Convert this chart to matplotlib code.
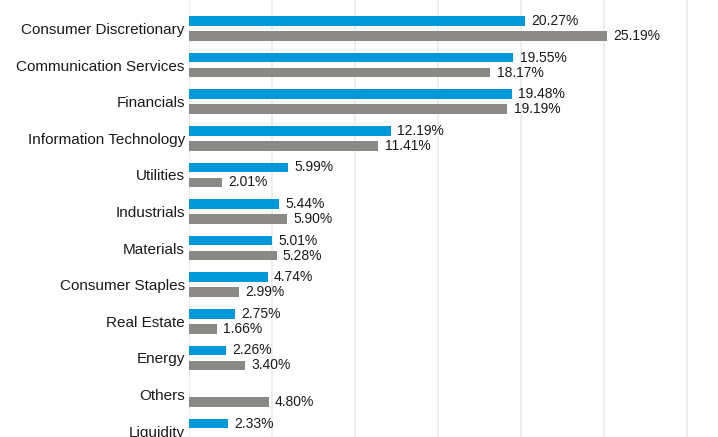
import numpy as np
import matplotlib.pyplot as plt

plt.rcParams['font.family'] = ['Liberation Sans', 'DejaVu Sans']

sectors = ['Consumer Discretionary', 'Communication Services', 'Financials',
           'Information Technology', 'Utilities', 'Industrials', 'Materials',
           'Consumer Staples', 'Real Estate', 'Energy', 'Others', 'Liquidity']
fund = [20.27, 19.55, 19.48, 12.19, 5.99, 5.44, 5.01, 4.74, 2.75, 2.26, None, 2.33]
benchmark = [25.19, 18.17, 19.19, 11.41, 2.01, 5.90, 5.28, 2.99, 1.66, 3.40, 4.80, None]

blue = '#0098D8'
grey = '#8A8985'

fig = plt.figure(figsize=(7.18, 4.37), dpi=100)
ax = fig.add_axes([189 / 718, 0, 1 - 189 / 718, 1])

y = np.arange(len(sectors))
h = 0.26
off = 0.205

for vals, d, col in [(fund, -off, blue), (benchmark, off, grey)]:
    for i, v in enumerate(vals):
        if v is None:
            continue
        ax.barh(y[i] + d, v, height=h, color=col, zorder=2)
        ax.annotate(f'{v:.2f}%', (v, y[i] + d), xytext=(4.5, 0),
                    textcoords='offset points', va='center', ha='left',
                    fontsize=10, color='#1a1a1a')

ax.set_xlim(0, (718 - 189) / 16.59)
ax.set_ylim(11.16, -0.78)
ax.set_xticks(np.arange(0, 35, 5))
ax.set_xticklabels([])
ax.set_yticks(y)
ax.set_yticklabels(sectors, fontsize=11, color='#1a1a1a')
ax.tick_params(axis='both', length=0)
ax.tick_params(axis='y', pad=3)
ax.grid(axis='x', color='#EBEBEB', linewidth=1.2, zorder=0)
ax.set_axisbelow(True)
for s in ax.spines.values():
    s.set_visible(False)

fig.savefig('out.png', dpi=100)
